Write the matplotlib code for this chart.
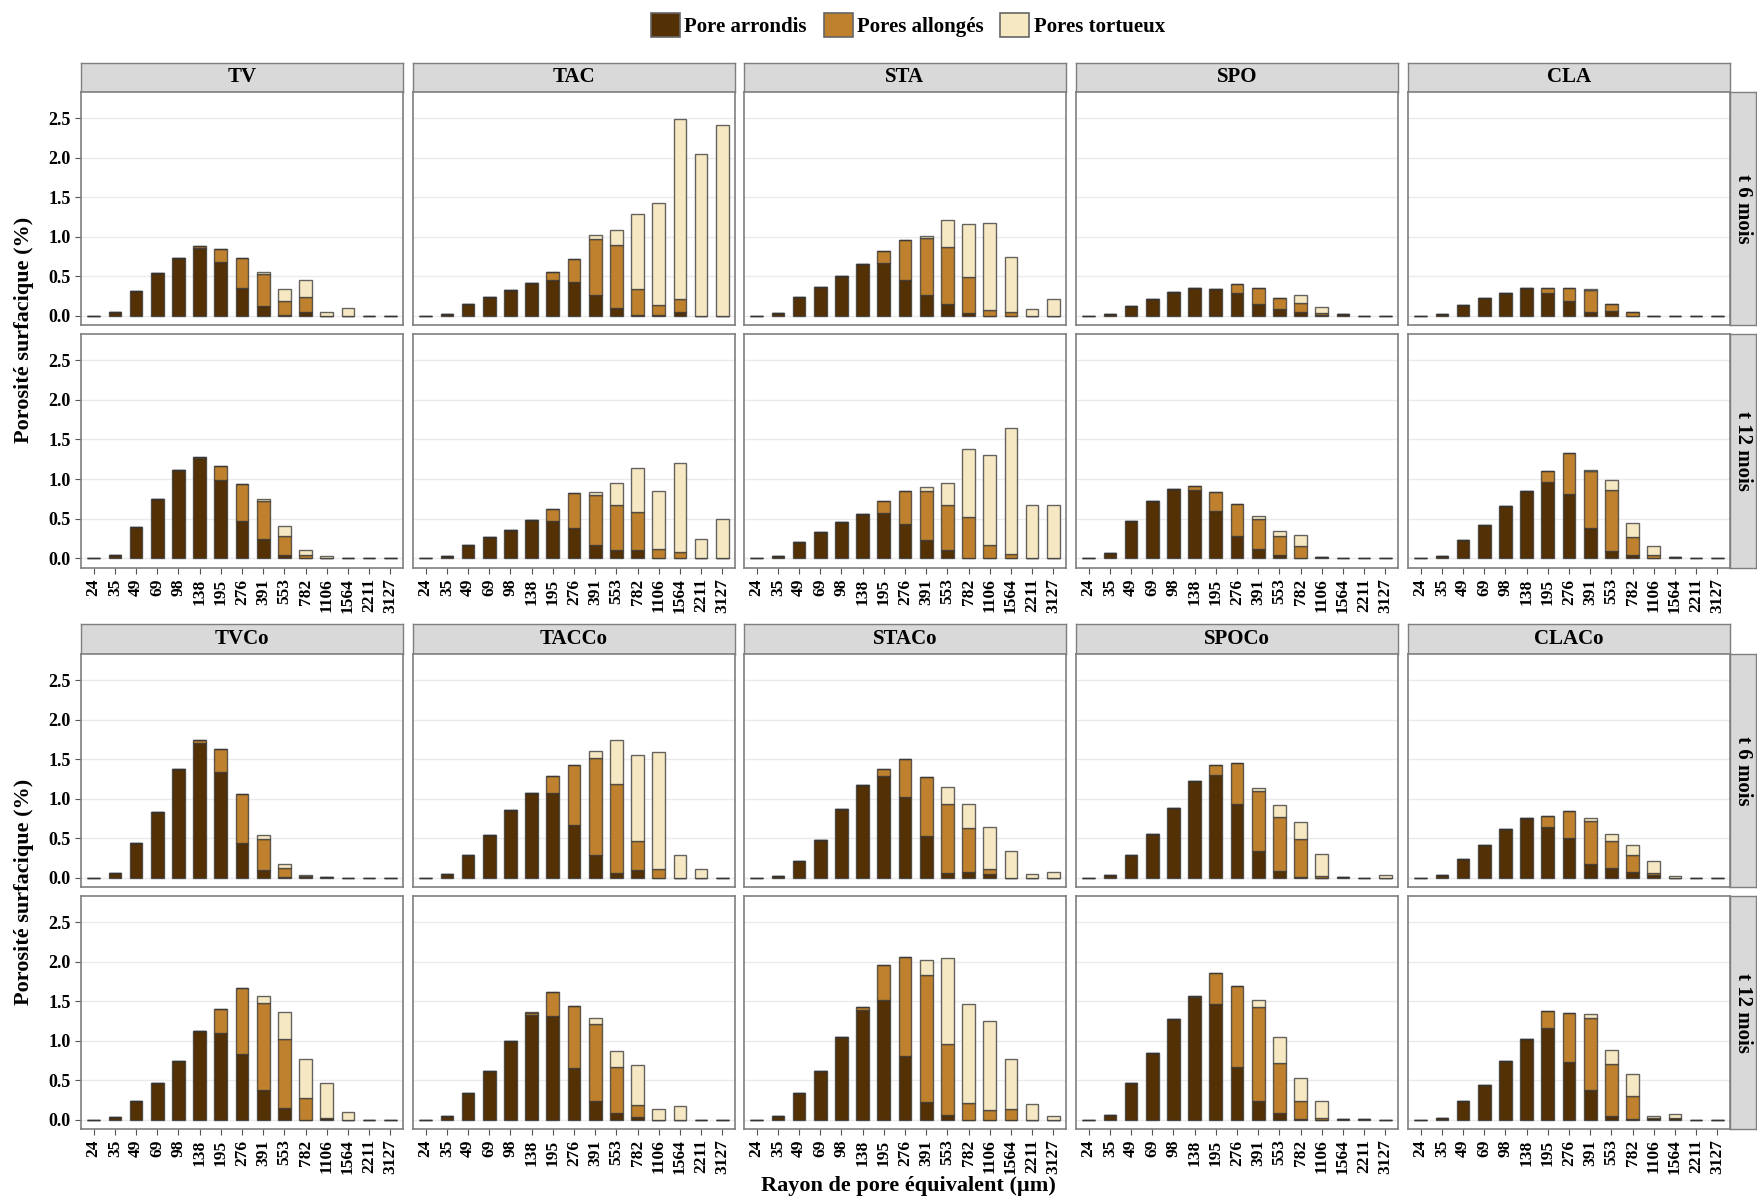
import matplotlib
matplotlib.use("Agg")
import matplotlib.pyplot as plt
from matplotlib.patches import Patch
import numpy as np

plt.rcParams['font.family'] = ['Liberation Serif', 'DejaVu Serif']
plt.rcParams['font.weight'] = 'bold'

# ---------------- données ----------------
rayons = ["24", "35", "49", "69", "98", "138", "195", "276", "391", "553",
          "782", "1106", "1564", "2211", "3127"]
classes = ["Pore arrondis", "Pores allongés", "Pores tortueux"]
couleurs = ["#543005", "#BF812D", "#F6E8C3"]

groupe1 = ["TV", "TAC", "STA", "SPO", "CLA"]
groupe2 = ["TVCo", "TACCo", "STACo", "SPOCo", "CLACo"]
temps = ["t 6 mois", "t 12 mois"]

arrondis = {
    ("TV", "t 6 mois"): [0, 0.04, 0.31, 0.54, 0.73, 0.86, 0.675, 0.35, 0.12, 0.01, 0.04, 0, 0, 0, 0],
    ("TAC", "t 6 mois"): [0, 0.02, 0.14, 0.23, 0.32, 0.41, 0.45, 0.42, 0.26, 0.09, 0.01, 0.01, 0.04, 0, 0],
    ("STA", "t 6 mois"): [0, 0.03, 0.23, 0.36, 0.505, 0.65, 0.66, 0.45, 0.26, 0.14, 0.03, 0, 0, 0, 0],
    ("SPO", "t 6 mois"): [0, 0.015, 0.115, 0.21, 0.30, 0.345, 0.33, 0.285, 0.145, 0.08, 0.05, 0.01, 0.015, 0, 0],
    ("CLA", "t 6 mois"): [0, 0.02, 0.135, 0.22, 0.285, 0.35, 0.29, 0.19, 0.05, 0.055, 0, 0, 0, 0, 0],
    ("TV", "t 12 mois"): [0, 0.05, 0.40, 0.75, 1.11, 1.27, 0.985, 0.47, 0.24, 0.04, 0.01, 0.01, 0, 0.01, 0],
    ("TAC", "t 12 mois"): [0, 0.025, 0.165, 0.27, 0.355, 0.48, 0.47, 0.39, 0.17, 0.11, 0.11, 0, 0, 0, 0],
    ("STA", "t 12 mois"): [0, 0.035, 0.21, 0.335, 0.455, 0.56, 0.57, 0.435, 0.235, 0.11, 0, 0, 0.01, 0, 0],
    ("SPO", "t 12 mois"): [0, 0.07, 0.475, 0.73, 0.87, 0.86, 0.60, 0.285, 0.115, 0.04, 0.01, 0.02, 0, 0, 0],
    ("CLA", "t 12 mois"): [0, 0.035, 0.235, 0.425, 0.665, 0.85, 0.97, 0.81, 0.38, 0.10, 0.04, 0.01, 0.015, 0, 0],
    ("TVCo", "t 6 mois"): [0, 0.055, 0.44, 0.83, 1.37, 1.705, 1.33, 0.44, 0.09, 0.01, 0.02, 0.01, 0, 0, 0],
    ("TACCo", "t 6 mois"): [0, 0.04, 0.285, 0.54, 0.86, 1.065, 1.065, 0.66, 0.29, 0.055, 0.10, 0, 0, 0, 0],
    ("STACo", "t 6 mois"): [0, 0.025, 0.21, 0.47, 0.865, 1.17, 1.29, 1.02, 0.52, 0.06, 0.07, 0.04, 0, 0, 0],
    ("SPOCo", "t 6 mois"): [0, 0.035, 0.28, 0.545, 0.875, 1.225, 1.30, 0.935, 0.34, 0.08, 0.01, 0, 0.01, 0, 0],
    ("CLACo", "t 6 mois"): [0, 0.035, 0.24, 0.415, 0.61, 0.75, 0.64, 0.505, 0.175, 0.12, 0.075, 0.035, 0, 0, 0],
    ("TVCo", "t 12 mois"): [0, 0.03, 0.237, 0.46, 0.74, 1.12, 1.09, 0.826, 0.377, 0.15, 0, 0.02, 0, 0, 0],
    ("TACCo", "t 12 mois"): [0, 0.04, 0.34, 0.62, 1.00, 1.32, 1.31, 0.65, 0.23, 0.085, 0.03, 0, 0, 0, 0],
    ("STACo", "t 12 mois"): [0, 0.045, 0.335, 0.62, 1.045, 1.385, 1.51, 0.81, 0.22, 0.06, 0, 0, 0, 0, 0],
    ("SPOCo", "t 12 mois"): [0, 0.055, 0.46, 0.84, 1.27, 1.545, 1.46, 0.665, 0.235, 0.08, 0.01, 0, 0.01, 0.01, 0],
    ("CLACo", "t 12 mois"): [0, 0.02, 0.23, 0.435, 0.735, 1.025, 1.16, 0.73, 0.38, 0.05, 0.01, 0.02, 0.02, 0, 0],
}

allonges = {
    ("TV", "t 6 mois"): [0, 0, 0, 0, 0, 0.02, 0.165, 0.38, 0.40, 0.18, 0.20, 0, 0, 0, 0],
    ("TAC", "t 6 mois"): [0, 0, 0, 0, 0, 0, 0.10, 0.30, 0.71, 0.80, 0.33, 0.12, 0.17, 0, 0],
    ("STA", "t 6 mois"): [0, 0, 0, 0, 0, 0, 0.16, 0.50, 0.72, 0.73, 0.46, 0.07, 0.05, 0, 0],
    ("SPO", "t 6 mois"): [0, 0, 0, 0, 0, 0, 0.01, 0.115, 0.20, 0.14, 0.11, 0.02, 0, 0, 0],
    ("CLA", "t 6 mois"): [0, 0, 0, 0, 0, 0, 0.055, 0.155, 0.27, 0.095, 0.05, 0, 0, 0, 0],
    ("TV", "t 12 mois"): [0, 0, 0, 0, 0, 0.01, 0.18, 0.47, 0.49, 0.245, 0.03, 0, 0, 0, 0],
    ("TAC", "t 12 mois"): [0, 0, 0, 0, 0, 0, 0.15, 0.44, 0.63, 0.565, 0.48, 0.12, 0.085, 0, 0],
    ("STA", "t 12 mois"): [0, 0, 0, 0, 0, 0, 0.15, 0.41, 0.615, 0.56, 0.52, 0.17, 0.05, 0, 0],
    ("SPO", "t 12 mois"): [0, 0, 0, 0, 0, 0.05, 0.235, 0.405, 0.385, 0.245, 0.145, 0, 0, 0, 0],
    ("CLA", "t 12 mois"): [0, 0, 0, 0, 0, 0, 0.13, 0.52, 0.72, 0.76, 0.23, 0.03, 0, 0, 0],
    ("TVCo", "t 6 mois"): [0, 0, 0, 0, 0, 0.04, 0.30, 0.617, 0.40, 0.113, 0, 0, 0, 0, 0],
    ("TACCo", "t 6 mois"): [0, 0, 0, 0, 0, 0, 0.215, 0.77, 1.22, 1.135, 0.365, 0.11, 0, 0, 0],
    ("STACo", "t 6 mois"): [0, 0, 0, 0, 0, 0, 0.08, 0.48, 0.75, 0.875, 0.56, 0.07, 0, 0, 0],
    ("SPOCo", "t 6 mois"): [0, 0, 0, 0, 0, 0, 0.12, 0.51, 0.76, 0.68, 0.48, 0.025, 0, 0, 0],
    ("CLACo", "t 6 mois"): [0, 0, 0, 0, 0, 0, 0.14, 0.335, 0.545, 0.34, 0.215, 0.025, 0, 0, 0],
    ("TVCo", "t 12 mois"): [0, 0, 0, 0, 0, 0, 0.31, 0.834, 1.10, 0.867, 0.27, 0, 0, 0, 0],
    ("TACCo", "t 12 mois"): [0, 0, 0, 0, 0, 0.035, 0.30, 0.79, 0.985, 0.575, 0.16, 0, 0, 0, 0],
    ("STACo", "t 12 mois"): [0, 0, 0, 0, 0, 0.045, 0.45, 1.25, 1.61, 0.90, 0.21, 0.12, 0.13, 0, 0],
    ("SPOCo", "t 12 mois"): [0, 0, 0, 0, 0, 0.015, 0.395, 1.03, 1.195, 0.63, 0.225, 0.02, 0, 0, 0],
    ("CLACo", "t 12 mois"): [0, 0, 0, 0, 0, 0, 0.215, 0.625, 0.91, 0.655, 0.29, 0, 0, 0, 0],
}

tortueux = {
    ("TV", "t 6 mois"): [0, 0, 0, 0, 0, 0, 0, 0, 0.035, 0.145, 0.21, 0.05, 0.09, 0, 0],
    ("TAC", "t 6 mois"): [0, 0, 0, 0, 0, 0, 0, 0, 0.05, 0.19, 0.95, 1.30, 2.28, 2.05, 2.41],
    ("STA", "t 6 mois"): [0, 0, 0, 0, 0, 0, 0, 0, 0.03, 0.34, 0.67, 1.10, 0.69, 0.08, 0.21],
    ("SPO", "t 6 mois"): [0, 0, 0, 0, 0, 0, 0, 0, 0, 0, 0.10, 0.08, 0, 0, 0],
    ("CLA", "t 6 mois"): [0, 0, 0, 0, 0, 0, 0, 0, 0.01, 0, 0, 0, 0, 0, 0],
    ("TV", "t 12 mois"): [0, 0, 0, 0, 0, 0, 0, 0, 0.02, 0.125, 0.07, 0.02, 0, 0, 0],
    ("TAC", "t 12 mois"): [0, 0, 0, 0, 0, 0, 0, 0, 0.04, 0.275, 0.55, 0.73, 1.125, 0.25, 0.50],
    ("STA", "t 12 mois"): [0, 0, 0, 0, 0, 0, 0, 0, 0.05, 0.285, 0.855, 1.13, 1.58, 0.67, 0.67],
    ("SPO", "t 12 mois"): [0, 0, 0, 0, 0, 0, 0, 0, 0.04, 0.065, 0.135, 0, 0, 0, 0],
    ("CLA", "t 12 mois"): [0, 0, 0, 0, 0, 0, 0, 0, 0.01, 0.125, 0.18, 0.12, 0, 0, 0],
    ("TVCo", "t 6 mois"): [0, 0, 0, 0, 0, 0, 0, 0, 0.045, 0.047, 0.015, 0, 0, 0, 0],
    ("TACCo", "t 6 mois"): [0, 0, 0, 0, 0, 0, 0, 0, 0.09, 0.545, 1.09, 1.48, 0.29, 0.105, 0],
    ("STACo", "t 6 mois"): [0, 0, 0, 0, 0, 0, 0, 0, 0, 0.205, 0.305, 0.535, 0.33, 0.04, 0.07],
    ("SPOCo", "t 6 mois"): [0, 0, 0, 0, 0, 0, 0, 0, 0.03, 0.16, 0.215, 0.275, 0, 0, 0.035],
    ("CLACo", "t 6 mois"): [0, 0, 0, 0, 0, 0, 0, 0, 0.035, 0.09, 0.12, 0.145, 0.025, 0, 0],
    ("TVCo", "t 12 mois"): [0, 0, 0, 0, 0, 0, 0, 0, 0.09, 0.343, 0.49, 0.44, 0.093, 0, 0],
    ("TACCo", "t 12 mois"): [0, 0, 0, 0, 0, 0, 0, 0, 0.075, 0.205, 0.50, 0.135, 0.17, 0, 0],
    ("STACo", "t 12 mois"): [0, 0, 0, 0, 0, 0, 0, 0, 0.19, 1.085, 1.25, 1.13, 0.63, 0.20, 0.05],
    ("SPOCo", "t 12 mois"): [0, 0, 0, 0, 0, 0, 0, 0, 0.08, 0.33, 0.295, 0.215, 0, 0, 0],
    ("CLACo", "t 12 mois"): [0, 0, 0, 0, 0, 0, 0, 0, 0.05, 0.17, 0.28, 0.02, 0.05, 0, 0],
}

# ---------------- mise en page (pixels) ----------------
W, H = 1758, 1201
fig = plt.figure(figsize=(W / 100, H / 100), dpi=100)

col_x = [81, 413, 744, 1076, 1408]
col_w = 322
rangs = [(92, 325), (334, 568), (654, 887), (896, 1129)]
bandeaux = [(63, 92), (624, 654)]
gris_bord = "#7F7F7F"


def rect(x0, y0, x1, y1):
    return [x0 / W, 1 - y1 / H, (x1 - x0) / W, (y1 - y0) / H]


def bandeau(pos, texte, rot=0, taille=14):
    ax = fig.add_axes(pos)
    ax.set_facecolor("#D9D9D9")
    ax.set_xticks([])
    ax.set_yticks([])
    for s in ax.spines.values():
        s.set_color(gris_bord)
        s.set_linewidth(1.0)
    ax.text(0.5, 0.5, texte, rotation=rot, ha="center", va="center",
            fontsize=taille, fontweight="bold", transform=ax.transAxes)


x = np.arange(len(rayons))
for g, groupe in enumerate([groupe1, groupe2]):
    # bandeaux du haut
    yb0, yb1 = bandeaux[g]
    for c, nom in enumerate(groupe):
        bandeau(rect(col_x[c], yb0, col_x[c] + col_w, yb1), nom, taille=15)
    for t, tps in enumerate(temps):
        y0, y1 = rangs[2 * g + t]
        bandeau(rect(1730, y0, 1756, y1), tps, rot=-90, taille=15)
        for c, nom in enumerate(groupe):
            ax = fig.add_axes(rect(col_x[c], y0, col_x[c] + col_w, y1))
            a = np.array(arrondis[(nom, tps)])
            b = np.array(allonges[(nom, tps)])
            d = np.array(tortueux[(nom, tps)])
            kw = dict(width=0.6, edgecolor=(0.2, 0.2, 0.2, 0.75), linewidth=1.0, zorder=3)
            ax.bar(x, a, color=couleurs[0], **kw)
            ax.bar(x, b, bottom=a, color=couleurs[1], **kw)
            ax.bar(x, d, bottom=a + b, color=couleurs[2], **kw)
            ax.set_xlim(-0.6, len(rayons) - 0.4)
            ax.set_ylim(-0.12, 2.83)
            ax.set_yticks([0, 0.5, 1.0, 1.5, 2.0, 2.5])
            ax.grid(axis="y", color="#EBEBEB", linewidth=1.0, zorder=0)
            for s in ax.spines.values():
                s.set_color(gris_bord)
                s.set_linewidth(1.2)
            ax.tick_params(color="#555555", length=4, width=0.8)
            if c == 0:
                ax.set_yticklabels(["0.0", "0.5", "1.0", "1.5", "2.0", "2.5"],
                                   fontsize=13, fontweight="bold")
            else:
                ax.tick_params(axis="y", length=0, labelleft=False)
            ax.set_xticks(x)
            if t == 1:
                ax.set_xticklabels(rayons, rotation=90, fontsize=12.5, fontweight="bold")
            else:
                ax.tick_params(axis="x", length=0, labelbottom=False)

    # titre de l'axe y pour chaque groupe
    yc = (rangs[2 * g][0] + rangs[2 * g + 1][1]) / 2
    fig.text(24 / W, 1 - yc / H, "Porosité surfacique (%)", rotation=90,
             ha="center", va="center", fontsize=16, fontweight="bold")

fig.text(908 / W, 1 - 1186 / H, "Rayon de pore équivalent (µm)",
         ha="center", va="center", fontsize=16, fontweight="bold")

poignees = [Patch(facecolor=couleurs[i], edgecolor="#666666", linewidth=1.2) for i in range(3)]
fig.legend(poignees, classes, loc="center", bbox_to_anchor=(908 / W, 1 - 25 / H),
           ncol=3, frameon=False, fontsize=15, handlelength=1.4, handleheight=1.4,
           handletextpad=0.2, columnspacing=0.8, prop={"weight": "bold", "size": 15})

fig.savefig("out.png", dpi=100)
